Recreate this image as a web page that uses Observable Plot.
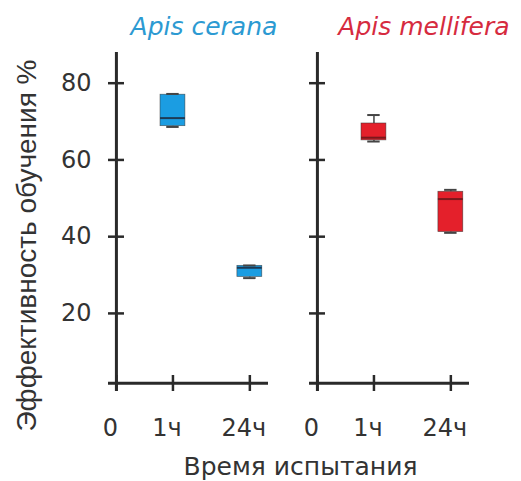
<!DOCTYPE html>
<html>
<head>
<meta charset="utf-8">
<script src="https://cdn.jsdelivr.net/npm/d3@7"></script>
<script src="https://cdn.jsdelivr.net/npm/@observablehq/plot@0.6"></script>
<style>
  html, body { margin: 0; padding: 0; background: #fff; }
</style>
</head>
<body>
<div id="chart"></div>
<script>
// ---- data ----
const species = ["Apis cerana", "Apis mellifera"];
const timeLabels = ["0", "1ч", "24ч"];
const yTicks = [20, 40, 60, 80];
const boxSpecies = ["Apis cerana", "Apis cerana", "Apis mellifera", "Apis mellifera"];
const boxTime = ["1ч", "24ч", "1ч", "24ч"];
const whiskerLow = [68.6, 29.2, 64.8, 41.0];
const quartile1 = [68.8, 29.5, 65.1, 41.2];
const median = [70.9, 31.9, 65.8, 49.8];
const quartile3 = [77.0, 32.4, 69.5, 51.7];
const whiskerHigh = [77.2, 32.5, 71.7, 52.2];
const yTitle = "Эффективность обучения %";
const xTitle = "Время испытания";

// ---- layout / style ----
const timePos = {"0": 0, "1ч": 1, "24ч": 2.36};
const tickVals = timeLabels.map(t => timePos[t]);
const labelAt = new Map(timeLabels.map(t => [timePos[t], t]));
const boxFill = {"Apis cerana": "#1b9de2", "Apis mellifera": "#e4202b"};
const medianColor = {"Apis cerana": "#1d3a55", "Apis mellifera": "#7a181c"};
const titleColor = {"Apis cerana": "#2c9ad2", "Apis mellifera": "#d62b3f"};
const titleX = {"Apis cerana": 0.25, "Apis mellifera": 0.37};
const boxHalf = 0.22, capHalf = 0.11;
const axisColor = "#2a2a2a", textColor = "#333";

const boxes = boxSpecies.map((s, i) => ({
  species: s, time: boxTime[i], pos: timePos[boxTime[i]],
  lo: whiskerLow[i], q1: quartile1[i], med: median[i], q3: quartile3[i], hi: whiskerHigh[i]
}));

const chart = Plot.plot({
  width: 521,
  height: 481,
  marginLeft: 108,
  marginRight: 52,
  marginTop: 52,
  marginBottom: 90,
  fx: {domain: species, paddingInner: 41 / 201, paddingOuter: 0, round: false, axis: null},
  x: {domain: [-0.14, 2.69]},
  y: {domain: [-0.35, 88]},
  style: {fontFamily: "DejaVu Sans, sans-serif", fontSize: "24px", color: textColor, background: "#fff", overflow: "visible"},
  marks: [
    // axis lines
    Plot.ruleX([0], {stroke: axisColor, strokeWidth: 3}),
    Plot.ruleY([1.8], {stroke: axisColor, strokeWidth: 3}),
    // y ticks (crossing) on both panels
    Plot.axisY({ticks: yTicks, tickSize: -16, tickFormat: () => "", label: null, facetAnchor: null, stroke: axisColor, strokeWidth: 2.5}),
    // y tick labels on left panel
    Plot.axisY({ticks: yTicks, tickSize: 0, tickPadding: 17, label: null, fontSize: 24, fill: textColor}),
    // x ticks
    Plot.axisX({ticks: tickVals, tickSize: -16, tickFormat: () => "", label: null, stroke: axisColor, strokeWidth: 2.5}),
    // x tick labels
    Plot.axisX({ticks: tickVals, tickSize: 0, tickPadding: 27, tickFormat: d => labelAt.get(d), label: null, dx: -6, fontSize: 24, fill: textColor}),
    // whiskers
    Plot.ruleX(boxes, {fx: "species", x: "pos", y1: "q3", y2: "hi", stroke: "#444", strokeWidth: 1.5}),
    Plot.ruleX(boxes, {fx: "species", x: "pos", y1: "lo", y2: "q1", stroke: "#444", strokeWidth: 1.5}),
    // boxes
    Plot.rect(boxes, {fx: "species", x1: d => d.pos - boxHalf, x2: d => d.pos + boxHalf, y1: "q1", y2: "q3",
      fill: d => boxFill[d.species], stroke: "#333", strokeWidth: 0.7, strokeOpacity: 0.7}),
    // medians
    Plot.ruleY(boxes, {fx: "species", y: "med", x1: d => d.pos - boxHalf, x2: d => d.pos + boxHalf,
      stroke: d => medianColor[d.species], strokeWidth: 2}),
    // caps
    Plot.ruleY(boxes, {fx: "species", y: "hi", x1: d => d.pos - capHalf, x2: d => d.pos + capHalf, stroke: "#444", strokeWidth: 2}),
    Plot.ruleY(boxes, {fx: "species", y: "lo", x1: d => d.pos - capHalf, x2: d => d.pos + capHalf, stroke: "#444", strokeWidth: 2}),
    // panel titles
    Plot.text(species, {fx: d => d, x: d => titleX[d], frameAnchor: "top", text: d => d,
      fill: d => titleColor[d], textAnchor: "start", lineAnchor: "bottom", dy: -18,
      fontStyle: "italic", fontSize: 25}),
    // y title
    Plot.text([{species: "Apis cerana"}], {fx: "species", frameAnchor: "left", text: () => yTitle,
      rotate: -90, textAnchor: "middle", lineAnchor: "middle", dx: -81, dy: 23.5,
      fontSize: 28, fontFamily: "Liberation Sans, Arial, sans-serif", fill: textColor}),
    // x title
    Plot.text([{species: "Apis cerana"}], {fx: "species", frameAnchor: "bottom-right", text: () => xTitle,
      textAnchor: "middle", lineAnchor: "bottom", dx: 32, dy: 83, fontSize: 25, fill: textColor})
  ]
});
document.getElementById("chart").appendChild(chart);
</script>
</body>
</html>
